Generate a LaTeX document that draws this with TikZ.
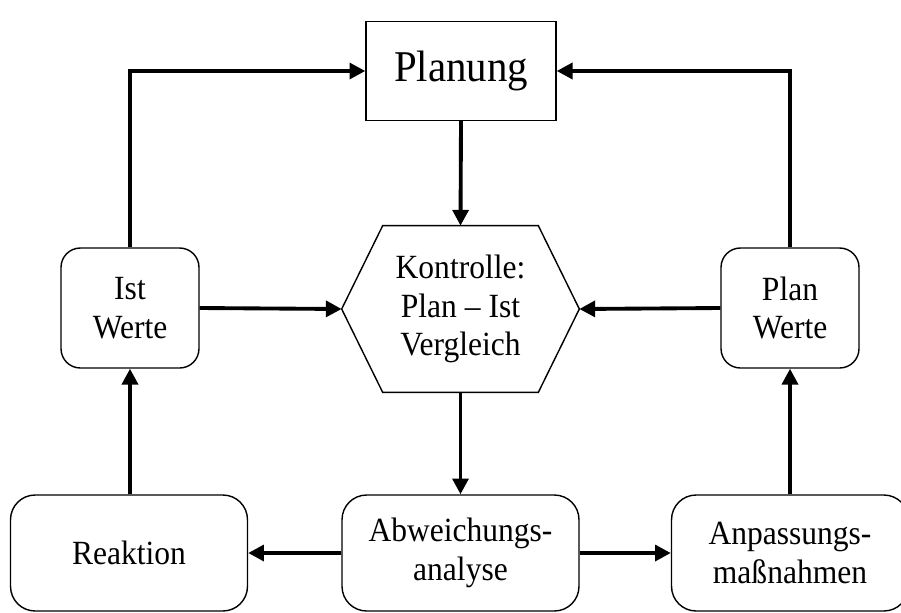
\documentclass[tikz,border=0pt]{standalone}
\usepackage{fontspec}
\setmainfont{Liberation Serif}[FakeStretch=0.93]
\usetikzlibrary{arrows.meta,positioning,calc}
\tikzset{
  box/.style={draw, line width=0.8pt, align=center, inner sep=0pt,
    font=\fontsize{19.3}{22}\selectfont},
  rbox/.style={box, rounded corners=11pt, minimum width=2.76cm, minimum height=2.4cm},
  gbox/.style={box, rounded corners=14pt, minimum width=4.74cm, minimum height=2.32cm},
  pfeil/.style={line width=2.2pt, -{Triangle[length=9pt,width=9pt]}},
}
\begin{document}
\begin{tikzpicture}[x=0.02cm,y=-0.02cm]
\useasboundingbox (0,0) rectangle (901,612);
\clip (0,0) rectangle (901,612);
\node[box, minimum width=3.8cm, minimum height=1.98cm, font=\fontsize{25}{28}\selectfont] (planung) at (461,71) {Planung};
\node[align=center, inner sep=0pt, minimum width=4.74cm, minimum height=3.32cm,
  font=\fontsize{19.3}{22}\selectfont] (kontrolle) at (460.5,309) {Kontrolle:\\Plan -- Ist\\Vergleich};
\draw[line width=0.8pt] (kontrolle.west) -- ($(kontrolle.north west)+(41,0)$)
  -- ($(kontrolle.north east)+(-41,0)$) -- (kontrolle.east)
  -- ($(kontrolle.south east)+(-41,0)$) -- ($(kontrolle.south west)+(41,0)$) -- cycle;
\node[rbox] (istwerte) at (130,308) {Ist\\Werte};
\node[rbox] (planwerte) at (790,308) {Plan\\Werte};
\node[gbox] (reaktion) at (129,553) {Reaktion};
\node[gbox] (abweichung) at (460.5,553) {Abweichungs-\\analyse};
\node[gbox] (anpassung) at (790,553) {Anpassungs-\\maßnahmen};

\draw[pfeil] (istwerte.north) |- (planung.west);
\draw[pfeil] (planwerte.north) |- (planung.east);
\draw[pfeil] (planung.south) -- (kontrolle.north);
\draw[pfeil] (istwerte.east) -- (kontrolle.west);
\draw[pfeil] (planwerte.west) -- (kontrolle.east);
\draw[pfeil] (kontrolle.south) -- (abweichung.north);
\draw[pfeil] (abweichung.west) -- (reaktion.east);
\draw[pfeil] (abweichung.east) -- (anpassung.west);
\draw[pfeil] (reaktion.north -| istwerte.south) -- (istwerte.south);
\draw[pfeil] (anpassung.north) -- (planwerte.south);
\end{tikzpicture}
\end{document}
